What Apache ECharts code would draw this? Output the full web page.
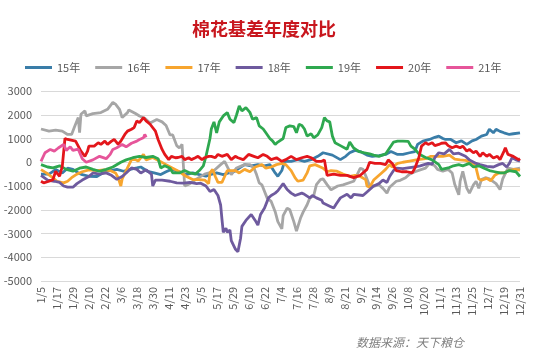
<!DOCTYPE html>
<html><head><meta charset="utf-8">
<script src="https://cdn.jsdelivr.net/npm/echarts@6/dist/echarts.min.js"></script>
<style>html,body{margin:0;padding:0;background:#fff}#c{width:550px;height:364px}</style>
</head><body><div id="c"></div>
<script>
// daily categories 1/5 .. 12/31 (non-leap year), labels every 12 days
const monthDays = [31,28,31,30,31,30,31,31,30,31,30,31];
const categories = [];
for (let m = 0; m < 12; m++) for (let d = 1; d <= monthDays[m]; d++) {
  if (m === 0 && d < 5) continue;
  categories.push((m + 1) + '/' + d);
}
const yTicks = [-5000,-4000,-3000,-2000,-1000,0,1000,2000,3000];
const seriesNames = ['15年','16年','17年','18年','19年','20年','21年'];

// [day index since 1/5, basis value]
const s15 = [[0,-500],[6,-500],[11,-310],[16,-450],[20,-250],[24,-300],[28,-450],[31,-520],[36,-590],[42,-600],[45,-500],[47,-400],[52,-350],[57,-300],[62,-380],[67,-300],[72,-240],[75,-200],[80,-380],[85,-450],[90,-520],[94,-400],[98,-300],[104,-400],[109,-520],[114,-450],[119,-520],[124,-590],[127,-520],[132,-450],[137,-520],[141,-450],[145,-400],[149,-250],[153,-100],[158,-150],[163,-100],[168,-150],[172,-100],[176,-450],[178,-590],[181,-350],[183,40],[188,40],[193,110],[198,40],[203,110],[208,250],[212,400],[219,300],[225,110],[229,250],[232,400],[236,500],[240,450],[245,300],[249,250],[254,280],[259,330],[263,450],[268,330],[272,330],[277,400],[281,450],[283,750],[287,890],[292,960],[296,1050],[299,1100],[302,1000],[304,960],[308,960],[312,820],[316,900],[320,750],[324,900],[327,960],[331,1100],[335,1170],[337,1390],[340,1240],[342,1390],[345,1300],[348,1240],[352,1170],[355,1200],[360,1240]];
const s16 = [[0,1400],[6,1310],[11,1350],[16,1310],[20,1170],[23,1170],[25,1460],[28,1880],[29,1250],[30,2020],[33,2160],[34,1950],[39,2050],[45,2090],[50,2230],[54,2520],[56,2450],[59,2230],[61,1880],[65,2090],[66,2200],[71,2050],[74,1950],[78,1850],[82,1650],[87,1800],[91,1700],[94,1550],[97,1150],[99,1150],[102,700],[104,600],[106,750],[108,-1000],[112,-900],[117,-700],[123,-500],[129,-400],[135,-100],[138,40],[143,-520],[147,-240],[153,-100],[157,-100],[160,-240],[162,-520],[164,-870],[166,-950],[170,-1510],[173,-1650],[176,-2080],[178,-2500],[181,-2800],[182,-2250],[185,-1930],[187,-2000],[190,-2500],[192,-2900],[195,-2360],[197,-2100],[200,-1790],[202,-1510],[205,-1400],[207,-940],[210,-730],[212,-700],[215,-940],[218,-1160],[223,-1000],[227,-950],[235,-800],[237,-590],[240,-250],[242,-300],[245,-700],[247,-1000],[251,-1000],[254,-950],[257,-1100],[260,-1300],[262,-1050],[267,-800],[270,-760],[274,-650],[277,-500],[281,-400],[285,-320],[289,-250],[292,-50],[296,-150],[298,-300],[302,-380],[306,-300],[309,-450],[311,-940],[314,-1370],[315,-800],[317,-380],[320,-1090],[322,-1300],[325,-950],[327,-800],[329,-1100],[331,-730],[334,-650],[337,-700],[342,-900],[345,-1150],[347,-700],[351,-250],[355,-300],[360,-250]];
const s17 = [[0,-310],[4,-450],[9,-660],[12,-800],[17,-870],[20,-800],[23,-650],[27,-500],[31,-400],[36,-320],[42,-350],[47,-320],[52,-350],[56,-450],[58,-650],[60,-1000],[61,-700],[64,-350],[68,110],[71,110],[73,50],[77,330],[79,100],[84,200],[89,50],[94,-100],[99,-250],[104,-400],[109,-590],[114,-730],[119,-730],[123,-750],[126,-900],[127,-450],[129,-300],[131,-600],[133,-850],[136,-850],[138,-600],[140,-350],[143,-350],[146,-350],[149,-450],[153,-300],[157,-400],[161,-200],[166,-100],[169,-250],[173,-200],[177,-100],[181,-50],[184,-100],[188,-350],[191,-660],[193,-800],[197,-750],[200,-450],[202,-150],[206,-100],[210,-200],[212,-250],[215,-400],[218,-350],[222,-370],[227,-500],[232,-590],[236,-550],[240,-600],[244,-730],[245,-1000],[247,-1050],[250,-750],[253,-600],[256,-450],[259,-300],[262,-100],[264,-200],[268,-50],[272,0],[277,50],[282,100],[289,150],[293,250],[297,250],[302,250],[307,300],[311,130],[315,100],[319,80],[322,0],[325,-50],[327,-250],[329,-700],[331,-760],[335,-680],[338,-780],[341,-550],[344,-450],[348,-450],[352,-350],[356,-300],[360,-330]];
const s18 = [[0,-550],[5,-750],[10,-800],[14,-850],[17,-1000],[20,-1050],[24,-1050],[27,-900],[31,-750],[36,-600],[39,-450],[44,-500],[49,-450],[53,-550],[57,-720],[61,-600],[64,-450],[68,-240],[72,-300],[75,-450],[79,-320],[83,-500],[84,-1000],[86,-750],[91,-750],[97,-800],[102,-870],[107,-880],[112,-850],[117,-900],[120,-880],[124,-1000],[127,-1230],[130,-1150],[133,-1400],[135,-1800],[136,-2400],[137,-2950],[139,-2780],[140,-2950],[142,-2850],[143,-3300],[146,-3650],[148,-3770],[150,-3200],[151,-2700],[154,-2450],[158,-2200],[161,-2450],[163,-2650],[165,-2200],[168,-1930],[171,-1500],[173,-1400],[176,-1300],[178,-1200],[182,-900],[185,-1150],[188,-1300],[191,-1400],[196,-1300],[198,-1350],[202,-1500],[204,-1400],[207,-1500],[211,-1600],[212,-1720],[217,-1850],[220,-1930],[222,-1750],[225,-1500],[230,-1350],[233,-1500],[235,-1350],[242,-1400],[245,-1250],[250,-1000],[254,-900],[257,-750],[260,-850],[262,-600],[265,-350],[267,-250],[272,-270],[277,-230],[281,-200],[285,-150],[291,-50],[294,-80],[296,200],[299,400],[303,350],[307,540],[310,350],[314,380],[319,250],[322,100],[327,-50],[330,-100],[335,-170],[340,-200],[344,-100],[347,-50],[350,-200],[352,-50],[354,190],[357,100],[360,50]];
const s19 = [[0,-100],[5,-200],[9,-240],[14,-150],[19,-300],[24,-380],[29,-250],[34,-200],[39,-300],[44,-380],[49,-300],[54,-200],[60,0],[64,100],[69,190],[74,250],[79,200],[84,250],[88,150],[90,-240],[93,-150],[97,-250],[99,-450],[104,-450],[108,-350],[112,-450],[116,-500],[119,-350],[122,-150],[124,250],[127,1000],[128,1400],[130,1700],[132,1240],[134,1700],[137,1950],[140,2090],[142,1810],[145,1670],[147,2000],[149,2370],[151,2160],[154,2300],[157,2100],[159,1810],[162,1880],[164,1530],[167,1400],[169,1240],[172,1000],[174,900],[176,750],[178,850],[182,1000],[184,1460],[187,1530],[190,1500],[192,1240],[194,1600],[196,1550],[198,1400],[200,1100],[203,1200],[205,1030],[208,1150],[211,1460],[213,1880],[215,1740],[217,1700],[219,1100],[221,820],[225,700],[230,550],[232,850],[235,600],[239,450],[243,400],[247,350],[250,300],[254,250],[259,350],[262,600],[265,850],[268,890],[272,890],[276,880],[278,680],[281,550],[284,350],[289,200],[294,100],[299,-100],[301,-300],[306,-240],[310,-150],[314,-100],[317,-150],[322,-50],[325,-200],[329,-150],[333,-250],[337,-350],[341,-400],[345,-450],[348,-450],[352,-350],[357,-400],[360,-600]];
const s20 = [[0,-800],[2,-870],[6,-800],[9,-730],[11,-380],[14,-590],[16,-170],[17,-200],[18,1000],[20,960],[21,960],[26,890],[30,470],[33,250],[35,470],[36,680],[40,680],[43,820],[45,750],[48,890],[50,750],[53,890],[55,960],[58,750],[60,890],[63,1170],[65,1310],[68,1390],[70,1460],[72,1740],[74,1670],[77,1880],[79,1740],[82,1600],[86,1310],[88,960],[91,540],[93,330],[96,110],[98,250],[101,190],[103,200],[106,250],[108,110],[111,190],[113,110],[116,190],[118,250],[121,110],[123,190],[126,250],[128,250],[131,190],[133,330],[136,250],[140,330],[141,250],[143,110],[146,250],[148,190],[152,110],[156,330],[160,250],[163,190],[167,330],[170,250],[173,110],[177,190],[181,40],[184,110],[188,250],[192,110],[196,190],[200,250],[203,190],[207,40],[211,40],[213,100],[215,-550],[220,-500],[225,-550],[230,-550],[235,-650],[240,-550],[245,-300],[247,0],[251,-50],[255,-50],[259,-100],[261,100],[264,-50],[267,-350],[271,-400],[275,-400],[279,-450],[281,-250],[284,200],[286,680],[289,820],[291,750],[294,820],[296,700],[299,750],[301,800],[304,820],[306,700],[309,610],[312,680],[315,610],[317,680],[320,470],[322,540],[325,400],[327,470],[330,250],[332,400],[335,250],[337,330],[340,180],[343,250],[345,110],[348,470],[349,610],[351,330],[355,250],[359,110],[360,150]];
const s21 = [[0,40],[3,400],[7,540],[10,470],[13,600],[17,750],[19,500],[22,650],[24,500],[28,550],[31,150],[34,0],[39,100],[44,250],[49,150],[52,330],[54,540],[57,610],[61,750],[64,650],[68,800],[72,890],[74,960],[77,1030],[78,1170],[79,1050]];

const seriesData = [s15,s16,s17,s18,s19,s20,s21];
const colors = ['#3A7DA8','#A6A6A6','#F7A52E','#6E5A9E','#2EA84F','#E3161B','#E6559A'];

const chart = echarts.init(document.getElementById('c'), null, {renderer:'canvas'});
const font = '"Noto Sans CJK SC", "Noto Sans", sans-serif';
chart.setOption({
  animation: false,
  textStyle: {fontFamily: font},
  title: {text: '棉花基差年度对比', left: 187, top: 15,
    textStyle: {fontSize: 18, fontWeight: 'bold', color: '#C8161D', fontFamily: font}},
  legend: {data: seriesNames, top: 57, left: 20, icon: 'rect', itemWidth: 27, itemHeight: 3, itemGap: 15,
    textStyle: {fontSize: 11, color: '#595959', fontFamily: font}},
  grid: {left: 41, right: 30, top: 91, bottom: 83},
  xAxis: {type: 'category', data: categories, boundaryGap: false,
    axisLine: {lineStyle: {color: '#D9D9D9'}}, axisTick: {show: false},
    axisLabel: {interval: 11, rotate: 90, fontSize: 11, color: '#595959', margin: 6, fontFamily: font},
    splitLine: {show: false}},
  yAxis: {type: 'value', min: yTicks[0], max: yTicks[yTicks.length-1], interval: 1000,
    axisLine: {show: false}, axisTick: {show: false},
    axisLabel: {fontSize: 11, color: '#595959', margin: 9, fontFamily: font, formatter: v => String(v)},
    splitLine: {lineStyle: {color: '#D9D9D9'}}},
  series: seriesNames.map((n, k) => ({
    name: n, type: 'line', symbol: 'none', color: colors[k],
    lineStyle: {width: 2.8, color: colors[k]},
    data: seriesData[k].map(p => [categories[p[0]], p[1]])
  })),
  graphic: [{type: 'text', left: 356, top: 336,
    style: {text: '数据来源：天下粮仓', fill: '#7F7F7F', font: 'italic 12px "Noto Sans CJK SC", sans-serif'}}]
});
</script></body></html>
